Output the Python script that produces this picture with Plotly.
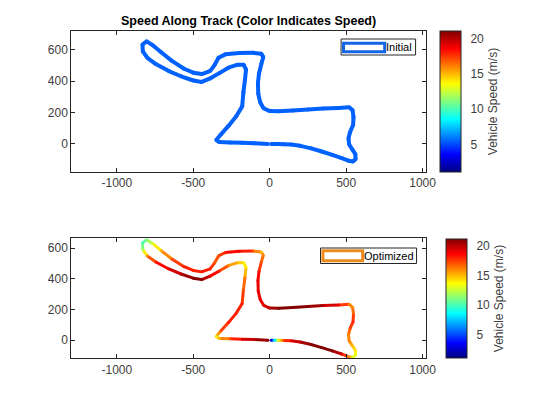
import plotly.graph_objects as go
from plotly.colors import sample_colorscale

# track centreline (m), starting just right of the start line
track_x = [10, 30, 55, 90, 140, 200, 270, 340, 410, 470, 515, 545, 562, 560,
           540, 520, 515, 525, 545, 548, 542, 520, 450, 350, 250, 150, 60, 0,
           -40, -62, -75, -77, -70, -55, -42, -55, -110, -200, -290, -335, -360,
           -390, -445, -500, -560, -640, -710, -765, -805, -832, -830, -800,
           -745, -660, -580, -500, -445, -390, -330, -270, -210, -170, -155,
           -162, -172, -180, -220, -270, -320, -350, -330, -260, -180, -100, -12]
track_y = [0, 0, -1, -2, -4, -12, -28, -48, -70, -90, -107, -112, -96, -65,
           -35, -5, 35, 75, 120, 170, 215, 234, 230, 226, 220, 214, 208, 210,
           228, 265, 320, 390, 450, 510, 555, 576, 582, 580, 572, 550, 505,
           465, 446, 455, 480, 530, 585, 630, 655, 635, 590, 550,
           510, 465, 432, 405, 396, 418, 452, 487, 506, 505, 475,
           410, 330, 240, 175, 115, 60, 25, 12, 9, 7, 4, 0]

# vehicle speed (m/s) at each track point
initial_speed = [5.5, 5.5, 5.5, 5.5, 5.5, 5.5, 5.5, 5.5, 5.5, 5.5, 5.5, 5.5, 5.5,
                 5.5, 5.5, 5.5, 5.5, 5.5, 5.5, 5.5, 5.5, 5.5, 5.5, 5.5, 5.5, 5.5,
                 5.5, 5.5, 5.5, 5.5, 5.5, 5.5, 5.5, 5.5, 5.5, 5.5, 5.5, 5.5, 5.5,
                 5.5, 5.5, 5.5, 5.5, 5.5, 5.5, 5.5, 5.5, 5.5, 5.5, 5.5, 5.5, 5.5,
                 5.5, 5.5, 5.5, 5.5, 5.5, 5.5, 5.5, 5.5, 5.5, 5.5, 5.5, 5.5, 5.5,
                 5.5, 5.5, 5.5, 5.5, 5.5, 5.5, 5.5, 5.5, 5.5, 5.5]
optimized_speed = [3, 8, 13, 17, 19, 20, 21, 21, 21, 19, 16, 13, 13, 14,
                   15, 16, 16, 17, 18, 17, 16, 16, 19, 20, 21, 21, 21, 20,
                   19, 19, 19, 19, 18, 17, 16, 15, 17, 19, 18, 17, 17,
                   18, 18, 18, 18, 17, 15, 13, 11, 10, 12, 16,
                   18, 19, 20, 21, 21, 19, 18, 16, 15, 14, 14,
                   16, 17, 18, 18, 18, 17, 14, 15, 17, 19, 20, 21]

x_ticks = [-1000, -500, 0, 500, 1000]
x_tick_labels = ['-1000', '-500', '0', '500', '1000']
y_ticks = [0, 200, 400, 600]
cbar_ticks = [5, 10, 15, 20]
speed_min, speed_max = 1.1, 21.1

W, H = 554, 415
jet = [[0, 'rgb(0,0,128)'], [0.125, 'rgb(0,0,255)'], [0.375, 'rgb(0,255,255)'],
       [0.625, 'rgb(255,255,0)'], [0.875, 'rgb(255,0,0)'], [1, 'rgb(128,0,0)']]
txt = '#404040'
font = 'Liberation Sans, Arial, sans-serif'


def px(x):
    return x / W


def py(y):
    return 1 - y / H


def add_track(fig, speed, width, xa, ya, cb_x, cb_top, cb_bot):
    # one short line per segment, coloured by the mean speed of its ends
    for i in range(len(track_x) - 1):
        v = (speed[i] + speed[i + 1]) / 2
        t = (v - speed_min) / (speed_max - speed_min)
        c = sample_colorscale(jet, [min(max(t, 0), 1)])[0]
        fig.add_trace(go.Scatter(x=track_x[i:i + 2], y=track_y[i:i + 2], mode='lines',
                                 line=dict(color=c, width=width), xaxis=xa, yaxis=ya,
                                 showlegend=False, hoverinfo='skip'))
    # dots on the joints, also carrying the colour bar
    fig.add_trace(go.Scatter(
        x=track_x, y=track_y, mode='markers', xaxis=xa, yaxis=ya, showlegend=False,
        marker=dict(size=width, color=speed, colorscale=jet, cmin=speed_min,
                    cmax=speed_max, line=dict(width=0),
                    colorbar=dict(x=px(cb_x), xanchor='left', xpad=0,
                                  y=py(cb_top), yanchor='top', ypad=0,
                                  len=(cb_bot - cb_top) / H, thickness=21,
                                  outlinecolor='#262626', outlinewidth=1,
                                  tickvals=cbar_ticks, ticks='outside', ticklen=7,
                                  tickcolor='rgba(0,0,0,0)',
                                  tickfont=dict(size=12, color=txt, family=font),
                                  title=dict(text='Vehicle Speed (m/s)', side='right',
                                             font=dict(size=12, color=txt, family=font))))))


fig = go.Figure()
add_track(fig, initial_speed, 4, 'x', 'y', 449, 31, 172)
add_track(fig, optimized_speed, 3, 'x2', 'y2', 455, 239, 358)

ax = dict(showline=True, linecolor='#262626', linewidth=1, mirror='ticks', ticks='inside',
          ticklen=4, tickcolor='#262626', showgrid=False, zeroline=False,
          tickfont=dict(size=12, color=txt, family=font))
fig.update_layout(
    width=W, height=H, margin=dict(l=0, r=0, t=0, b=0),
    paper_bgcolor='white', plot_bgcolor='white',
    xaxis=dict(ax, domain=[px(72.7), px(434.3)], range=[-1298, 1020], tickvals=x_ticks,
               ticktext=x_tick_labels),
    yaxis=dict(ax, domain=[py(172), py(31)], range=[-179, 721], tickvals=y_ticks),
    xaxis2=dict(ax, domain=[px(72.7), px(434.3)], range=[-1298, 1020], tickvals=x_ticks,
                ticktext=x_tick_labels, anchor='y2'),
    yaxis2=dict(ax, domain=[py(358.3), py(238.3)], range=[-118, 665], tickvals=y_ticks,
                anchor='x2'),
)

fig.add_annotation(text='<b>Speed Along Track (Color Indicates Speed)</b>', xref='paper',
                   yref='paper', x=px(254), y=py(21), xanchor='center', yanchor='middle',
                   showarrow=False, font=dict(size=12.5, color='black', family=font))

# MATLAB style legend boxes, drawn by hand
legends = [('Initial', 'rgb(20,100,230)', (348, 424, 39, 55), (350.5, 392.5, 43.3, 51.7)),
           ('Optimized', 'rgb(237,140,30)', (327, 425, 248, 263.5), (329.5, 370, 250.7, 260.7))]
for name, col, box, icon in legends:
    fig.add_shape(type='rect', xref='paper', yref='paper', x0=px(box[0]), x1=px(box[1]),
                  y0=py(box[3]), y1=py(box[2]), line=dict(color='#262626', width=1),
                  fillcolor='white')
    fig.add_shape(type='rect', xref='paper', yref='paper', x0=px(icon[0]), x1=px(icon[1]),
                  y0=py(icon[3]), y1=py(icon[2]), line=dict(color=col, width=3),
                  fillcolor='white')
    fig.add_annotation(text=name, xref='paper', yref='paper', x=px(icon[1] + 1),
                       y=py((box[2] + box[3]) / 2), xanchor='left', yanchor='middle',
                       xshift=-2, showarrow=False,
                       font=dict(size=11, color='black', family=font))

# the page has an 8px body margin by default; drop it so pixel positions line up
fig.write_html("out.html", config={'displayModeBar': False},
               post_script="document.body.style.margin = '0';")
